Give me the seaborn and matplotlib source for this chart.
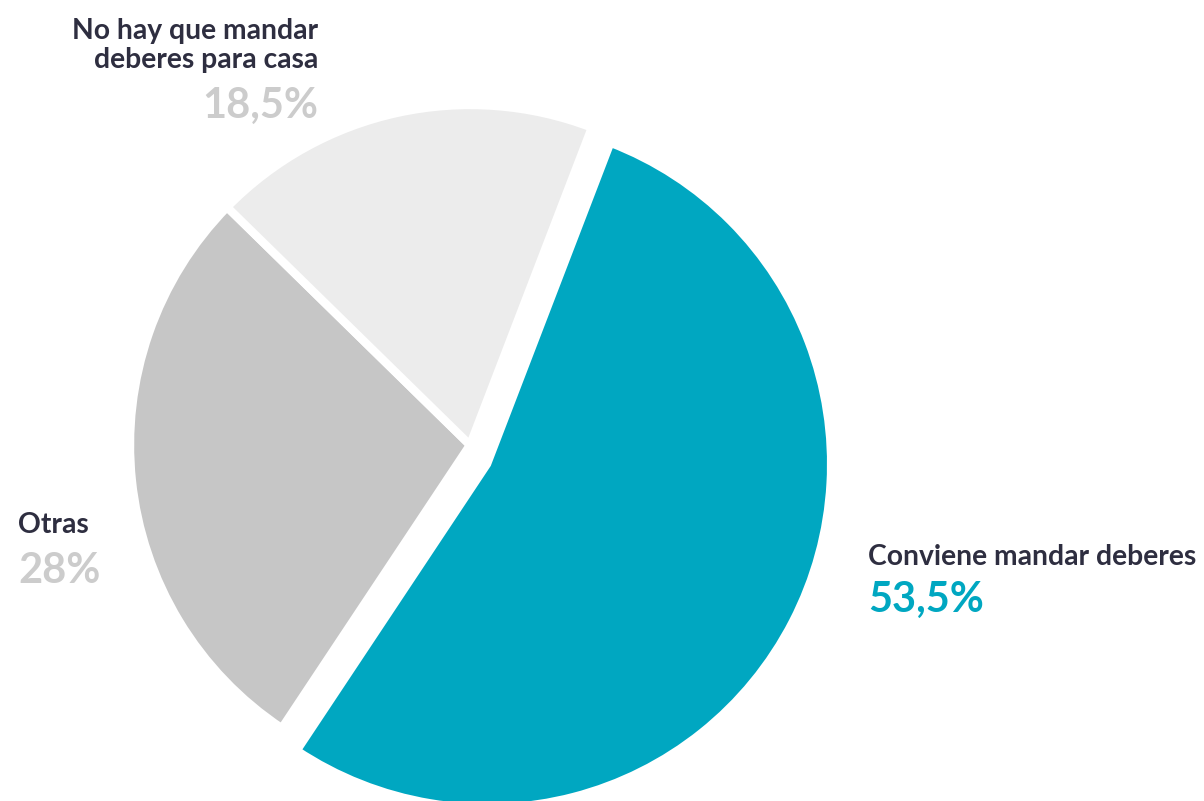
import matplotlib
matplotlib.use("Agg")
import numpy as np
import matplotlib.pyplot as plt
import seaborn as sns

# Respuestas sobre los deberes
categorias = ["Conviene mandar deberes", "Otras", "No hay que mandar\ndeberes para casa"]
porcentajes = [53.5, 28.0, 18.5]
etiquetas_pct = ["53,5%", "28%", "18,5%"]
colores = ["#00A7C1", "#C6C6C6", "#ECECEC"]
colores_pct = ["#00A7C1", "#CCCCCC", "#CCCCCC"]

sns.set_theme(style="white")
plt.rcParams['font.family'] = ['Lato', 'DejaVu Sans']

W, H = 1204, 801
fig = plt.figure(figsize=(W / 100, H / 100), dpi=100)
ax = fig.add_axes([0, 0, 1, 1])

# pie centre and radius in pixels
cx, cy, r = 470, 445, 340
wedges, _ = ax.pie(porcentajes, colors=colores, startangle=69, counterclock=False,
                   radius=1, wedgeprops=dict(edgecolor="white", linewidth=6))

# pull the big slice out a bit (direction as in the original graphic)
ang = np.deg2rad(138)
d = 0.075
wedges[0].set_center((d * np.sin(ang), d * np.cos(ang)))
wedges[0].set_radius(1.012)

ax.set_xlim(-cx / r, (W - cx) / r)
ax.set_ylim(-(H - cy) / r, cy / r)
ax.set_aspect("auto")
ax.axis("off")

dark = "#2E2E40"


def fy(py):
    return 1 - py / H


# label placement (x px, baseline y px of label, baseline of pct, alignment)
pos = [(868, 565, 612, "left"), (18, 533, 583, "left"), (318, 68, 118, "right")]
for cat, pct, cpct, (x, yl, yp, ha) in zip(categorias, etiquetas_pct, colores_pct, pos):
    fig.text(x / W, fy(yl), cat, ha=ha, va="baseline", fontsize=20.3,
             fontweight="bold", color=dark, linespacing=1.12,
             multialignment=ha)
    fig.text(x / W, fy(yp), pct, ha=ha, va="baseline", fontsize=30,
             fontweight="bold", color=cpct)

fig.savefig("out.png", dpi=100)
